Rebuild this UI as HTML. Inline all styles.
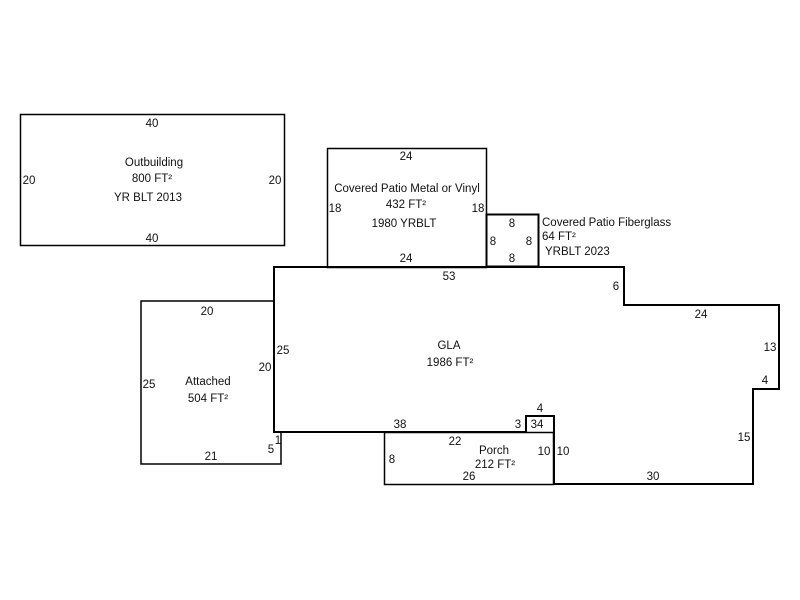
<!DOCTYPE html>
<html><head><meta charset="utf-8"><style>
html,body{margin:0;padding:0;background:#fff;}
svg{display:block;}
text{font-family:"Liberation Sans",Arial,sans-serif;font-size:11.5px;fill:#111;}
</style></head><body>
<svg width="800" height="600" viewBox="0 0 800 600" xmlns="http://www.w3.org/2000/svg">
<g fill="none" stroke="#000" stroke-width="2">
<rect x="20.5" y="114.5" width="264" height="131" stroke-width="1.5"/>
<rect x="327.5" y="148.5" width="159" height="119" stroke-width="1.5"/>
<rect x="486.5" y="214.5" width="52" height="52"/>
<polyline points="274,301 141,301 141,464 281,464 281,432 274,432" stroke-width="1.5"/>
<rect x="384.5" y="432.5" width="169" height="52" stroke-width="1.5"/>
<polygon points="274,267 624,267 624,305 779,305 779,389 753,389 753,484 554,484 554,416 526,416 526,432 274,432"/>
</g>
<g text-anchor="middle">
<text x="152" y="127">40</text>
<text x="29" y="184">20</text>
<text x="275" y="184">20</text>
<text x="152" y="242">40</text>
<text x="154" y="166">Outbuilding</text>
<text x="152" y="182">800 FT²</text>
<text x="148" y="201">YR BLT 2013</text>

<text x="406" y="160">24</text>
<text x="335" y="212">18</text>
<text x="478" y="212">18</text>
<text x="407" y="192">Covered Patio Metal or Vinyl</text>
<text x="406" y="208">432 FT²</text>
<text x="404" y="227">1980 YRBLT</text>
<text x="406" y="262">24</text>

<text x="512" y="227">8</text>
<text x="493" y="245">8</text>
<text x="529" y="245">8</text>
<text x="512" y="262">8</text>
<text x="449" y="280">53</text>

<text x="616" y="290">6</text>
<text x="701" y="318">24</text>
<text x="770" y="351">13</text>
<text x="765" y="384">4</text>
<text x="744" y="441">15</text>
<text x="653" y="480">30</text>

<text x="449" y="349">GLA</text>
<text x="450" y="366">1986 FT²</text>

<text x="207" y="315">20</text>
<text x="149" y="388">25</text>
<text x="283" y="354">25</text>
<text x="265" y="371">20</text>
<text x="208" y="385">Attached</text>
<text x="208" y="402">504 FT²</text>
<text x="211" y="460">21</text>
<text x="271" y="453">5</text>
<text x="278" y="444">1</text>

<text x="400" y="428">38</text>
<text x="518" y="428">3</text>
<text x="537" y="428">34</text>
<text x="540" y="412">4</text>
<text x="455" y="445">22</text>
<text x="494" y="454">Porch</text>
<text x="495" y="468">212 FT²</text>
<text x="392" y="463">8</text>
<text x="469" y="480">26</text>
<text x="544" y="455">10</text>
<text x="563" y="455">10</text>
</g>
<g text-anchor="start">
<text x="542" y="226">Covered Patio Fiberglass</text>
<text x="542" y="240">64 FT²</text>
<text x="545" y="255">YRBLT 2023</text>
</g>
</svg>
</body></html>
